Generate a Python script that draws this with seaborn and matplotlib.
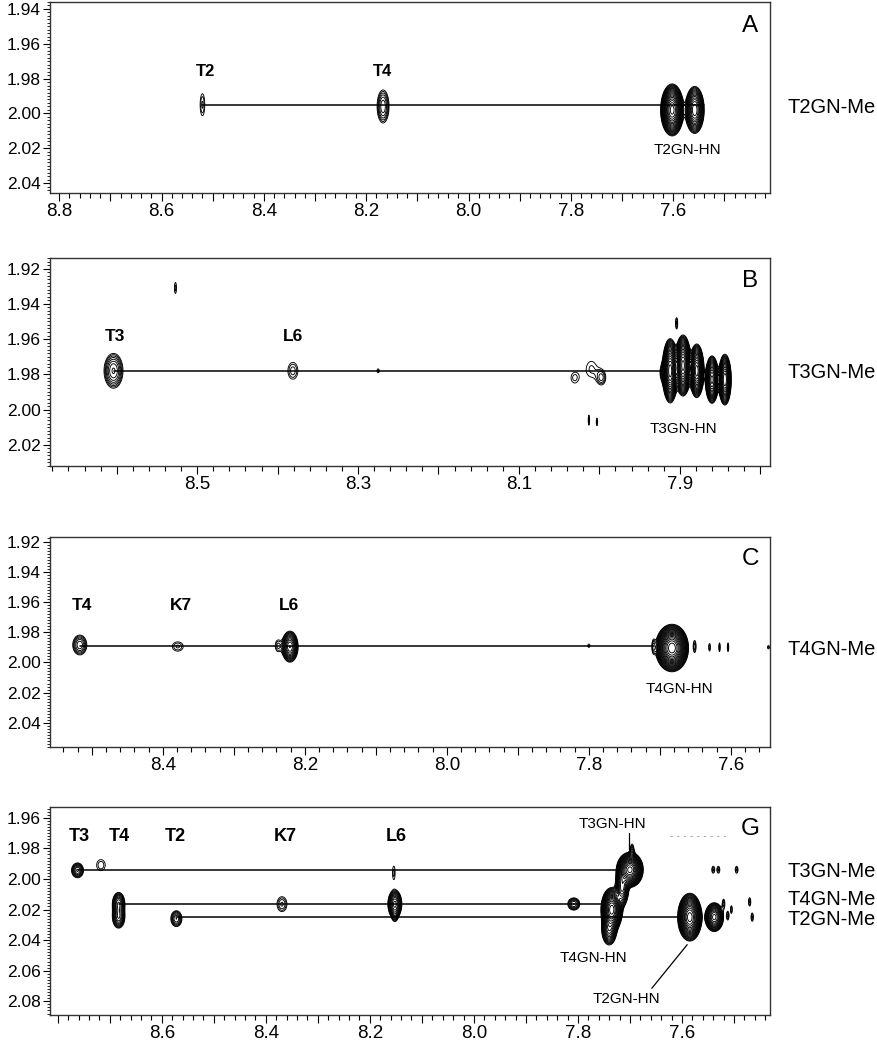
import numpy as np
import matplotlib
matplotlib.use("Agg")
import matplotlib.pyplot as plt
from matplotlib.ticker import FixedLocator, MultipleLocator, FuncFormatter
import seaborn as sns

sns.set_style("ticks")
plt.rcParams['font.family'] = ['Liberation Sans', 'DejaVu Sans']
plt.rcParams.update({'text.color': 'black', 'xtick.color': 'black', 'ytick.color': 'black',
                     'xtick.labelcolor': 'black', 'ytick.labelcolor': 'black'})

# cross peaks: (HN ppm, Me ppm, intensity, width HN, width Me)
peaks_a = [(8.520, 1.995, 1.5, 0.0050, 0.0070),
           (8.167, 1.996, 2.9, 0.0080, 0.0065),
           (7.602, 1.998, 35, 0.0085, 0.0056),
           (7.558, 1.998, 15, 0.0080, 0.0058)]
peaks_b = [(8.604, 1.978, 3.7, 0.0073, 0.0061),
           (8.381, 1.978, 1.6, 0.0064, 0.0049),
           (8.275, 1.978, 1.3, 0.0020, 0.0015),
           (8.527, 1.931, 1.3, 0.0018, 0.0043),
           (8.031, 1.982, 1.25, 0.0060, 0.0040),
           (8.010, 1.977, 1.25, 0.0090, 0.0065),
           (7.997, 1.982, 1.6, 0.0045, 0.0035),
           (8.013, 2.006, 1.3, 0.0012, 0.0040),
           (8.003, 2.007, 1.3, 0.0012, 0.0030),
           (7.904, 1.951, 1.5, 0.0015, 0.0035),
           (7.922, 1.979, 1.3, 0.0030, 0.0040),
           (7.912, 1.978, 30, 0.0038, 0.0070),
           (7.896, 1.975, 35, 0.0038, 0.0065),
           (7.879, 1.978, 25, 0.0036, 0.0060),
           (7.860, 1.983, 20, 0.0034, 0.0055),
           (7.844, 1.983, 22, 0.0032, 0.0058)]
peaks_c = [(8.517, 1.9885, 2.9, 0.0068, 0.0045),
           (8.379, 1.9895, 1.5, 0.0085, 0.0034),
           (8.238, 1.989, 1.5, 0.0040, 0.0040),
           (8.221, 1.9896, 9, 0.0055, 0.0049),
           (7.800, 1.989, 1.3, 0.0020, 0.0015),
           (7.683, 1.9905, 45, 0.0085, 0.0057),
           (7.709, 1.9895, 1.6, 0.0020, 0.0040),
           (7.651, 1.9895, 1.6, 0.0020, 0.0040),
           (7.630, 1.990, 1.4, 0.0015, 0.0030),
           (7.616, 1.990, 1.4, 0.0012, 0.0035),
           (7.604, 1.990, 1.4, 0.0012, 0.0035),
           (7.547, 1.990, 1.3, 0.0020, 0.0015)]
peaks_g = [(8.762, 1.9944, 3.7, 0.0071, 0.0030),
           (8.717, 1.991, 1.4, 0.0100, 0.0044),
           (8.683, 2.016, 5, 0.0066, 0.0040),
           (8.683, 2.025, 5, 0.0066, 0.0040),
           (8.572, 2.026, 3, 0.0072, 0.0035),
           (8.369, 2.0165, 1.8, 0.0088, 0.0045),
           (8.154, 1.996, 1.3, 0.0035, 0.0060),
           (8.152, 2.0164, 8, 0.0066, 0.0045),
           (8.152, 2.024, 1.6, 0.0040, 0.0030),
           (7.808, 2.0164, 3, 0.0078, 0.0027),
           (7.700, 1.994, 35, 0.0096, 0.0043),
           (7.696, 1.982, 2.0, 0.0030, 0.0040),
           (7.715, 2.005, 10, 0.0060, 0.0060),
           (7.735, 2.020, 30, 0.0080, 0.0055),
           (7.740, 2.033, 8, 0.0070, 0.0050),
           (7.585, 2.025, 30, 0.0090, 0.0060),
           (7.538, 2.025, 14, 0.0078, 0.0041),
           (7.540, 1.994, 1.5, 0.0030, 0.0025),
           (7.530, 1.994, 1.5, 0.0030, 0.0025),
           (7.495, 1.994, 1.5, 0.0030, 0.0025),
           (7.520, 2.016, 1.5, 0.0025, 0.0030),
           (7.512, 2.024, 1.5, 0.0025, 0.0030),
           (7.505, 2.020, 1.4, 0.0020, 0.0030),
           (7.470, 2.015, 1.5, 0.0025, 0.0030),
           (7.465, 2.025, 1.5, 0.0025, 0.0030)]

# connecting lines: (from HN, to HN, Me ppm)
lines_a = [(8.520, 7.540, 1.995)]
lines_b = [(8.604, 7.922, 1.978)]
lines_c = [(8.517, 7.708, 1.989)]
lines_g = [(8.762, 7.722, 1.994), (8.683, 7.755, 2.0164), (8.572, 7.602, 2.025)]

# residue labels: (text, HN ppm, Me ppm)
res_a = [("T2", 8.515, 1.9785), ("T4", 8.169, 1.9785)]
res_b = [("T3", 8.602, 1.9613), ("L6", 8.381, 1.9613)]
res_c = [("T4", 8.514, 1.9655), ("K7", 8.375, 1.9655), ("L6", 8.223, 1.9655)]
res_g = [("T3", 8.758, 1.9755), ("T4", 8.681, 1.9755), ("T2", 8.574, 1.9755),
         ("K7", 8.363, 1.9755), ("L6", 8.149, 1.9755)]

hn_a = [("T2GN-HN", 7.573, 2.0233)]
hn_b = [("T3GN-HN", 7.896, 2.0132)]
hn_c = [("T4GN-HN", 7.672, 2.0201)]
hn_g = [("T3GN-HN", 7.733, 1.9666), ("T4GN-HN", 7.771, 2.0543), ("T2GN-HN", 7.706, 2.0813)]

me_a = [("T2GN-Me", 2.000)]
me_b = [("T3GN-Me", 1.982)]
me_c = [("T4GN-Me", 1.995)]
me_g = [("T3GN-Me", 1.9986), ("T4GN-Me", 2.017), ("T2GN-Me", 2.030)]

xtick_a = [8.8, 8.6, 8.4, 8.2, 8.0, 7.8, 7.6]
xtick_b = [8.5, 8.3, 8.1, 7.9]
xtick_c = [8.4, 8.2, 8.0, 7.8, 7.6]
xtick_g = [8.6, 8.4, 8.2, 8.0, 7.8, 7.6]

panels = [
    dict(letter="A", rect=[0.0569, 0.8162, 0.820, 0.1819], xlim=(8.818, 7.411), ylim=(2.0457, 1.936),
         peaks=peaks_a, lines=lines_a, res=res_a, hn=hn_a, me=me_a, xt=xtick_a, ly=0.843, rs=12),
    dict(letter="B", rect=[0.0569, 0.5562, 0.820, 0.1981], xlim=(8.683, 7.788), ylim=(2.032, 1.914),
         peaks=peaks_b, lines=lines_b, res=res_b, hn=hn_b, me=me_b, xt=xtick_b, ly=0.862, rs=12.5),
    dict(letter="C", rect=[0.0569, 0.2886, 0.820, 0.2000], xlim=(8.559, 7.545), ylim=(2.056, 1.917),
         peaks=peaks_c, lines=lines_c, res=res_c, hn=hn_c, me=me_c, xt=xtick_c, ly=0.867, rs=12.5),
    dict(letter="G", rect=[0.0569, 0.0333, 0.820, 0.1981], xlim=(8.815, 7.431), ylim=(2.089, 1.953),
         peaks=peaks_g, lines=lines_g, res=res_g, hn=hn_g, me=me_g, xt=xtick_g, ly=0.865, rs=13),
]

levels = 1.2 ** np.arange(0, 24)

fig = plt.figure(figsize=(8.78, 10.5), dpi=100)

for p in panels:
    ax = fig.add_axes(p["rect"])
    x0, x1 = p["xlim"]
    y0, y1 = p["ylim"]
    gx = np.linspace(x1, x0, 3000)
    gy = np.linspace(y1, y0, 500)
    X, Y = np.meshgrid(gx, gy)
    Z = np.zeros_like(X)
    for px, py, amp, sx, sy in p["peaks"]:
        Z += amp * np.exp(-0.5 * ((X - px) / sx) ** 2 - 0.5 * ((Y - py) / sy) ** 2)
    ax.contour(X, Y, Z, levels=levels, colors="black", linewidths=0.65)

    for xa, xb, yl in p["lines"]:
        sns.lineplot(x=[xa, xb], y=[yl, yl], ax=ax, color="black", linewidth=1.1, legend=False)

    for t, tx, ty in p["res"]:
        ax.text(tx, ty, t, fontsize=p["rs"], fontweight="bold", ha="center", va="baseline")
    for t, tx, ty in p["hn"]:
        ax.text(tx, ty, t, fontsize=11, ha="center", va="baseline")
    trans = ax.get_yaxis_transform()
    for t, ty in p["me"]:
        ax.text(1.025, ty, t, fontsize=14.5, ha="left", va="baseline", transform=trans)
    ax.text(0.973, p["ly"], p["letter"], fontsize=17.5, ha="center", va="baseline",
            transform=ax.transAxes)

    ax.set_xlim(x0, x1)
    ax.set_ylim(y0, y1)

    majors = np.round(np.arange(np.floor(x1 * 10) / 10, x0 + 1e-9, 0.1), 2)
    ax.xaxis.set_major_locator(FixedLocator(majors))
    ax.xaxis.set_minor_locator(MultipleLocator(0.02))
    labs = p["xt"]
    ax.xaxis.set_major_formatter(FuncFormatter(
        lambda v, pos, labs=labs: f"{v:.1f}" if any(abs(v - l) < 1e-6 for l in labs) else ""))
    ax.yaxis.set_major_locator(MultipleLocator(0.02))
    ax.yaxis.set_minor_locator(MultipleLocator(0.002))
    ax.yaxis.set_major_formatter(FuncFormatter(lambda v, pos: f"{v:.2f}"))

    ax.tick_params(axis="x", which="major", length=5.8, width=0.8, labelsize=13.5, pad=1.5, direction="out")
    ax.tick_params(axis="x", which="minor", length=3.6, width=0.8, direction="out")
    ax.tick_params(axis="y", which="major", length=5, width=0.8, labelsize=12.5, pad=1.5, direction="out")
    ax.tick_params(axis="y", which="minor", length=2, width=0.6, direction="out")
    for s in ax.spines.values():
        s.set_linewidth(1.0)
        s.set_color("#333333")
    ax.set_xlabel("")
    ax.set_ylabel("")

# leader lines and faint trace in panel G
axg = fig.axes[-1]
axg.plot([7.702, 7.702], [1.970, 1.9803], color="black", linewidth=0.9)
axg.plot([7.590, 7.658], [2.043, 2.0715], color="black", linewidth=0.9)
axg.plot([7.623, 7.513], [1.972, 1.972], color="#aaaaaa", linewidth=0.8, linestyle=(0, (2, 4)))

fig.savefig("out.png", dpi=100)
